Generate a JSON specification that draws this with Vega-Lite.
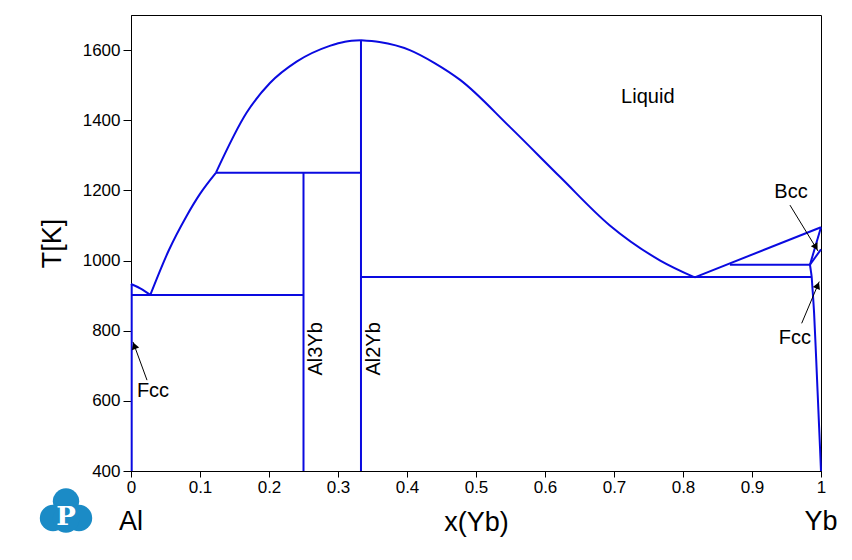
{
  "$schema": "https://vega.github.io/schema/vega-lite/v6.json",
  "width": 690,
  "height": 456,
  "autosize": {"type": "none"},
  "padding": {"left": 131, "top": 15, "right": 31, "bottom": 89},
  "background": "white",
  "config": {
    "view": {"stroke": "black", "strokeWidth": 1},
    "font": "Liberation Sans",
    "axis": {"grid": false, "labelFlush": false, "domainColor": "black", "tickColor": "black", "labelColor": "black", "titleColor": "black", "labelFont": "Liberation Sans", "titleFont": "Liberation Sans", "titleFontWeight": "normal", "labelFontSize": 17, "titleFontSize": 27}
  },
  "datasets": {
    "lines": [
      {"seg": "al_solvus", "i": 0, "x": 0.001, "T": 400},
      {"seg": "al_solvus", "i": 1, "x": 0.001, "T": 933},
      {"seg": "al_liq", "i": 0, "x": 0, "T": 933},
      {"seg": "al_liq", "i": 1, "x": 0.014, "T": 920},
      {"seg": "al_liq", "i": 2, "x": 0.028, "T": 902},
      {"seg": "eut1", "i": 0, "x": 0, "T": 902},
      {"seg": "eut1", "i": 1, "x": 0.25, "T": 902},
      {"seg": "liq2", "i": 0, "x": 0.028, "T": 902},
      {"seg": "liq2", "i": 1, "x": 0.055, "T": 1030},
      {"seg": "liq2", "i": 2, "x": 0.08, "T": 1125},
      {"seg": "liq2", "i": 3, "x": 0.1, "T": 1190},
      {"seg": "liq2", "i": 4, "x": 0.123, "T": 1250},
      {"seg": "liq3", "i": 0, "x": 0.123, "T": 1250},
      {"seg": "liq3", "i": 1, "x": 0.1677, "T": 1422},
      {"seg": "liq3", "i": 2, "x": 0.2014, "T": 1506},
      {"seg": "liq3", "i": 3, "x": 0.24, "T": 1567},
      {"seg": "liq3", "i": 4, "x": 0.288, "T": 1612},
      {"seg": "liq3", "i": 5, "x": 0.31, "T": 1624},
      {"seg": "liq3", "i": 6, "x": 0.3333, "T": 1628},
      {"seg": "peri", "i": 0, "x": 0.123, "T": 1250},
      {"seg": "peri", "i": 1, "x": 0.3333, "T": 1250},
      {"seg": "al3yb", "i": 0, "x": 0.25, "T": 400},
      {"seg": "al3yb", "i": 1, "x": 0.25, "T": 1250},
      {"seg": "al2yb", "i": 0, "x": 0.3333, "T": 400},
      {"seg": "al2yb", "i": 1, "x": 0.3333, "T": 1628},
      {"seg": "liq4", "i": 0, "x": 0.3333, "T": 1628},
      {"seg": "liq4", "i": 1, "x": 0.36, "T": 1623},
      {"seg": "liq4", "i": 2, "x": 0.404, "T": 1600},
      {"seg": "liq4", "i": 3, "x": 0.44, "T": 1563},
      {"seg": "liq4", "i": 4, "x": 0.477, "T": 1515},
      {"seg": "liq4", "i": 5, "x": 0.549, "T": 1381},
      {"seg": "liq4", "i": 6, "x": 0.622, "T": 1238},
      {"seg": "liq4", "i": 7, "x": 0.694, "T": 1100},
      {"seg": "liq4", "i": 8, "x": 0.767, "T": 1000},
      {"seg": "liq4", "i": 9, "x": 0.817, "T": 952},
      {"seg": "eut2", "i": 0, "x": 0.3333, "T": 953},
      {"seg": "eut2", "i": 1, "x": 0.9865, "T": 953},
      {"seg": "liq5", "i": 0, "x": 0.817, "T": 952},
      {"seg": "liq5", "i": 1, "x": 1, "T": 1095},
      {"seg": "meta", "i": 0, "x": 0.868, "T": 988},
      {"seg": "meta", "i": 1, "x": 0.984, "T": 988},
      {"seg": "bcc1", "i": 0, "x": 0.984, "T": 988},
      {"seg": "bcc1", "i": 1, "x": 1, "T": 1095},
      {"seg": "bcc2", "i": 0, "x": 0.984, "T": 988},
      {"seg": "bcc2", "i": 1, "x": 1, "T": 1032},
      {"seg": "fcc", "i": 0, "x": 0.984, "T": 988},
      {"seg": "fcc", "i": 1, "x": 0.9855, "T": 968},
      {"seg": "fcc", "i": 2, "x": 0.9865, "T": 953},
      {"seg": "fcc", "i": 3, "x": 0.9875, "T": 925},
      {"seg": "fcc", "i": 4, "x": 0.99, "T": 850},
      {"seg": "fcc", "i": 5, "x": 0.993, "T": 720},
      {"seg": "fcc", "i": 6, "x": 0.9965, "T": 560},
      {"seg": "fcc", "i": 7, "x": 0.9985, "T": 470},
      {"seg": "fcc", "i": 8, "x": 1, "T": 400}
    ],
    "arrows": [
      {"id": "left", "x1": 0.0232, "T1": 659, "x2": 0.0029, "T2": 768, "hx": 0.0049, "hT": 757},
      {"id": "bcc", "x1": 0.955, "T1": 1158, "x2": 0.9957, "T2": 1027, "hx": 0.9926, "hT": 1038},
      {"id": "fcc", "x1": 0.972, "T1": 821, "x2": 0.9975, "T2": 940, "hx": 0.9952, "hT": 929}
    ],
    "labels": [
      {"text": "Liquid", "x": 0.749, "T": 1466},
      {"text": "Bcc", "x": 0.9565, "T": 1195},
      {"text": "Fcc", "x": 0.962, "T": 779},
      {"text": "Fcc", "x": 0.0319, "T": 628}
    ],
    "vlabels": [
      {"text": "Al3Yb", "x": 0.268, "T": 748},
      {"text": "Al2Yb", "x": 0.352, "T": 748}
    ],
    "elements": [
      {"text": "Al", "x": 0, "T": 232},
      {"text": "Yb", "x": 1, "T": 232}
    ],
    "logo": [
      {"part": "top", "x": -0.0942, "T": 313},
      {"part": "left", "x": -0.113, "T": 266},
      {"part": "right", "x": -0.0754, "T": 266},
      {"part": "mid", "x": -0.0942, "T": 262}
    ],
    "logoText": [
      {"text": "P", "x": -0.0942, "T": 269}
    ]
  },
  "layer": [
    {
      "data": {"name": "lines"},
      "mark": {"type": "line", "color": "#0a0ae0", "strokeWidth": 2, "interpolate": "monotone"},
      "encoding": {
        "x": {"field": "x", "type": "quantitative", "title": "x(Yb)", "scale": {"domain": [0, 1], "nice": false, "zero": false},
              "axis": {"values": [0, 0.1, 0.2, 0.3, 0.4, 0.5, 0.6, 0.7, 0.8, 0.9, 1], "labelExpr": "format(datum.value, '.1~f')", "tickSize": 6, "labelPadding": 2, "titlePadding": 14}},
        "y": {"field": "T", "type": "quantitative", "title": "T[K]", "scale": {"domain": [400, 1700], "nice": false, "zero": false},
              "axis": {"values": [400, 600, 800, 1000, 1200, 1400, 1600], "format": "d", "tickSize": 8, "labelPadding": 3, "titlePadding": 16}},
        "detail": {"field": "seg", "type": "nominal"},
        "order": {"field": "i", "type": "quantitative"}
      }
    },
    {
      "data": {"name": "arrows"},
      "mark": {"type": "rule", "color": "black", "strokeWidth": 1},
      "encoding": {
        "x": {"field": "x1", "type": "quantitative", "title": "x(Yb)"},
        "y": {"field": "T1", "type": "quantitative", "title": "T[K]"},
        "x2": {"field": "x2"},
        "y2": {"field": "T2"}
      }
    },
    {
      "data": {"name": "arrows"},
      "transform": [{"filter": "datum.id === 'left'"}],
      "mark": {"type": "point", "shape": "triangle-up", "filled": true, "color": "black", "opacity": 1, "size": 60, "angle": 340},
      "encoding": {
        "x": {"field": "hx", "type": "quantitative", "title": "x(Yb)"},
        "y": {"field": "hT", "type": "quantitative", "title": "T[K]"}
      }
    },
    {
      "data": {"name": "arrows"},
      "transform": [{"filter": "datum.id === 'bcc'"}],
      "mark": {"type": "point", "shape": "triangle-up", "filled": true, "color": "black", "opacity": 1, "size": 60, "angle": 149},
      "encoding": {
        "x": {"field": "hx", "type": "quantitative", "title": "x(Yb)"},
        "y": {"field": "hT", "type": "quantitative", "title": "T[K]"}
      }
    },
    {
      "data": {"name": "arrows"},
      "transform": [{"filter": "datum.id === 'fcc'"}],
      "mark": {"type": "point", "shape": "triangle-up", "filled": true, "color": "black", "opacity": 1, "size": 60, "angle": 23},
      "encoding": {
        "x": {"field": "hx", "type": "quantitative", "title": "x(Yb)"},
        "y": {"field": "hT", "type": "quantitative", "title": "T[K]"}
      }
    },
    {
      "data": {"name": "labels"},
      "mark": {"type": "text", "font": "Liberation Sans", "fontSize": 20, "color": "black", "align": "center", "baseline": "middle"},
      "encoding": {
        "x": {"field": "x", "type": "quantitative", "title": "x(Yb)"},
        "y": {"field": "T", "type": "quantitative", "title": "T[K]"},
        "text": {"field": "text"}
      }
    },
    {
      "data": {"name": "vlabels"},
      "mark": {"type": "text", "font": "Liberation Sans", "fontSize": 20, "color": "black", "align": "center", "baseline": "middle", "angle": 270},
      "encoding": {
        "x": {"field": "x", "type": "quantitative", "title": "x(Yb)"},
        "y": {"field": "T", "type": "quantitative", "title": "T[K]"},
        "text": {"field": "text"}
      }
    },
    {
      "data": {"name": "elements"},
      "mark": {"type": "text", "font": "Liberation Sans", "fontSize": 27, "color": "black", "align": "center", "baseline": "alphabetic"},
      "encoding": {
        "x": {"field": "x", "type": "quantitative", "title": "x(Yb)"},
        "y": {"field": "T", "type": "quantitative", "title": "T[K]"},
        "text": {"field": "text"}
      }
    },
    {
      "data": {"name": "logo"},
      "mark": {"type": "point", "shape": "circle", "filled": true, "color": "#1b8bc6", "opacity": 1, "size": 700},
      "encoding": {
        "x": {"field": "x", "type": "quantitative", "title": "x(Yb)"},
        "y": {"field": "T", "type": "quantitative", "title": "T[K]"}
      }
    },
    {
      "data": {"name": "logoText"},
      "mark": {"type": "text", "font": "DejaVu Serif", "fontWeight": "bold", "fontSize": 26, "color": "white", "align": "center", "baseline": "middle"},
      "encoding": {
        "x": {"field": "x", "type": "quantitative", "title": "x(Yb)"},
        "y": {"field": "T", "type": "quantitative", "title": "T[K]"},
        "text": {"field": "text"}
      }
    }
  ]
}
